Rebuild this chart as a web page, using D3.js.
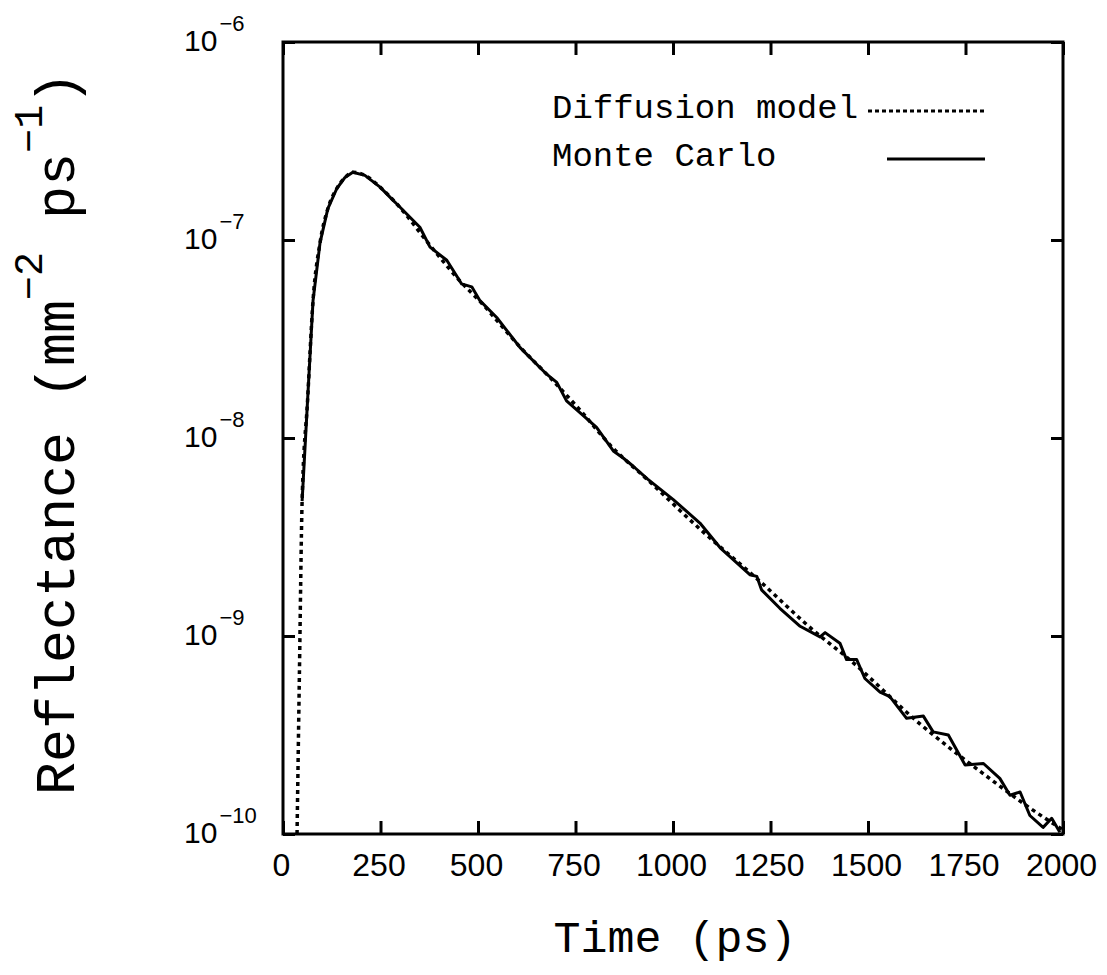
<!DOCTYPE html>
<html>
<head>
<meta charset="utf-8">
<script src="https://cdn.jsdelivr.net/npm/d3@7"></script>
<style>
body{margin:0;background:#fff;}
</style>
</head>
<body>
<svg class="plot"></svg>
<script>
// tick values
var xTicks=[0,250,500,750,1000,1250,1500,1750,2000];
var yTicks=[1e-6,1e-7,1e-8,1e-9,1e-10];
var yExponents=["\u22126","\u22127","\u22128","\u22129","\u221210"];

// Monte Carlo (solid)
var mcTime=[49,63,77,95,115,138,159,179,210,249,283,292,351,377,420,445,458,484,505,548,
            608,676,702,727,762,804,847,873,898,935,1000,1069,1121,1197,1215,1227,1274,1326,
            1377,1390,1428,1445,1471,1492,1531,1556,1599,1642,1667,1706,1749,1796,1838,1864,
            1890,1915,1949,1971,1992];
var mcValue=[4.8e-9,1.55e-8,4.94e-8,9.7e-8,1.44e-7,1.82e-7,2.07e-7,2.2e-7,2.12e-7,1.85e-7,
             1.58e-7,1.52e-7,1.16e-7,9.2e-8,7.9e-8,6.6e-8,6.0e-8,5.8e-8,4.94e-8,4.06e-8,
             2.86e-8,2.1e-8,1.91e-8,1.54e-8,1.34e-8,1.13e-8,8.6e-9,7.9e-9,7.2e-9,6.2e-9,
             4.9e-9,3.72e-9,2.79e-9,2.04e-9,2.0e-9,1.71e-9,1.38e-9,1.12e-9,9.9e-10,1.04e-9,
             9.2e-10,7.6e-10,7.6e-10,6.1e-10,5.2e-10,4.94e-10,3.84e-10,3.94e-10,3.28e-10,
             3.16e-10,2.23e-10,2.27e-10,1.91e-10,1.57e-10,1.63e-10,1.24e-10,1.08e-10,1.2e-10,1.02e-10];

// Diffusion model (dotted)
var diffTime=[36,42,49,63,77,95,115,138,159,179,210,249,292,377,454,505,608,692,762,846,
              933,1069,1215,1377,1436,1633,1813,1923,2000];
var diffValue=[1.0e-10,6.3e-10,4.8e-9,1.55e-8,4.94e-8,9.7e-8,1.44e-7,1.82e-7,2.07e-7,2.2e-7,
               2.12e-7,1.85e-7,1.52e-7,9.4e-8,6.2e-8,4.9e-8,2.88e-8,1.95e-8,1.38e-8,8.9e-9,
               6.2e-9,3.47e-9,1.95e-9,1.0e-9,8.1e-10,3.6e-10,1.9e-10,1.32e-10,1.05e-10];

var legendNames=["Diffusion model","Monte Carlo"];

var screen={width:1107,height:975};
var margin={top:42,bottom:141,left:283,right:44};
var width=screen.width-margin.left-margin.right;
var height=screen.height-margin.top-margin.bottom;

var svg=d3.select("svg.plot")
          .attr("width",screen.width)
          .attr("height",screen.height);

var xscale=d3.scaleLinear()
             .domain([0,2000])
             .range([0,width]);
var yscale=d3.scaleLog()
             .domain([1e-10,1e-6])
             .range([height,0]);

var plot=svg.append("g")
            .attr("transform","translate("+margin.left+","+margin.top+")");

var sans="'Liberation Sans',Arial,sans-serif";
var mono="'Liberation Mono','DejaVu Sans Mono',monospace";

// frame
plot.append("rect")
    .attr("x",0)
    .attr("y",0)
    .attr("width",width)
    .attr("height",height)
    .attr("fill","none")
    .attr("stroke","#000")
    .attr("stroke-width",3);

// inward ticks
var bottomAxis=plot.append("g")
                   .attr("transform","translate(0,"+height+")")
                   .call(d3.axisBottom(xscale).tickValues(xTicks).tickSize(-13).tickSizeOuter(0).tickFormat(""));
var topAxis=plot.append("g")
                .call(d3.axisTop(xscale).tickValues(xTicks).tickSize(-13).tickSizeOuter(0).tickFormat(""));
var leftAxis=plot.append("g")
                 .call(d3.axisLeft(yscale).tickValues(yTicks).tickSize(-12).tickSizeOuter(0).tickFormat(""));
var rightAxis=plot.append("g")
                  .attr("transform","translate("+width+",0)")
                  .call(d3.axisRight(yscale).tickValues(yTicks).tickSize(-12).tickSizeOuter(0).tickFormat(""));
[bottomAxis,topAxis,leftAxis,rightAxis].forEach(function(a){
  a.select(".domain").remove();
  a.selectAll("line").attr("stroke","#000").attr("stroke-width",3);
});

// x tick labels
bottomAxis.selectAll(".tick")
          .append("text")
          .attr("y",42)
          .attr("dx",-2)
          .attr("fill","#000")
          .attr("text-anchor","middle")
          .style("font-family",sans)
          .style("font-size","32px")
          .text(function(d){return d;});

// y tick labels 10^n
var ylab=svg.append("g")
            .selectAll("text")
            .data(yTicks)
            .enter()
            .append("text")
            .attr("x",184)
            .attr("y",function(d){return margin.top+yscale(d)+9;})
            .style("font-family",sans)
            .style("font-size","30px");
ylab.append("tspan").text("10");
ylab.append("tspan")
    .attr("dy",-20)
    .attr("dx",2)
    .style("font-size","22px")
    .text(function(d,i){return yExponents[i];});

// curves
var line=d3.line()
           .x(function(d){return xscale(d[0]);})
           .y(function(d){return yscale(d[1]);});
var diffData=d3.zip(diffTime,diffValue);
var mcData=d3.zip(mcTime,mcValue);

plot.append("path")
    .datum(diffData)
    .attr("d",line.curve(d3.curveMonotoneX))
    .attr("fill","none")
    .attr("stroke","#000")
    .attr("stroke-width",3.5)
    .attr("stroke-dasharray","4,4");
plot.append("path")
    .datum(mcData)
    .attr("d",line.curve(d3.curveLinear))
    .attr("fill","none")
    .attr("stroke","#000")
    .attr("stroke-width",3)
    .attr("stroke-linejoin","round");

// legend
var legend=svg.append("g");
legend.selectAll("text")
      .data(legendNames)
      .enter()
      .append("text")
      .attr("x",552)
      .attr("y",function(d,i){return 118+i*48;})
      .style("font-family",mono)
      .style("font-size","34px")
      .text(function(d){return d;});
legend.append("line")
      .attr("x1",868).attr("x2",986)
      .attr("y1",111).attr("y2",111)
      .attr("stroke","#000")
      .attr("stroke-width",3)
      .attr("stroke-dasharray","4,3");
legend.append("line")
      .attr("x1",887).attr("x2",985)
      .attr("y1",159).attr("y2",159)
      .attr("stroke","#000")
      .attr("stroke-width",3);

// axis titles
svg.append("text")
   .attr("x",675)
   .attr("y",952)
   .attr("text-anchor","middle")
   .style("font-family",mono)
   .style("font-size","45px")
   .text("Time (ps)");

var ytitle=svg.append("text")
              .attr("transform","translate(74,795) rotate(-90)")
              .style("font-family",mono)
              .style("font-size","55px");
ytitle.append("tspan").text("Reflectance (mm");
ytitle.append("tspan").attr("dy",-32).style("font-size","40px").text("\u22122");
ytitle.append("tspan").attr("dy",32).text(" ps");
ytitle.append("tspan").attr("dy",-32).style("font-size","40px").text("\u22121");
ytitle.append("tspan").attr("dy",32).text(")");
</script>
</body>
</html>
